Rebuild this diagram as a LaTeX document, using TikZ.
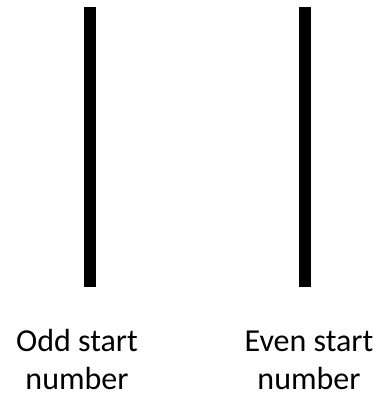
\documentclass[tikz,border=0pt]{standalone}
\usepackage{fontspec}
\setmainfont{Carlito}
\begin{document}
\begin{tikzpicture}[x=1pt,y=-1pt,
  bar/.style={line width=11.5pt,black},
  lbl/.style={align=center,inner sep=0pt,font=\fontsize{32}{38}\selectfont,anchor=base}]
\useasboundingbox (0,0) rectangle (382,395);
\coordinate (l1) at (90,7.5);
\coordinate (l2) at (90,287);
\coordinate (r1) at (305,7.5);
\coordinate (r2) at (305,287);
\draw[bar] (l1) -- (l2);
\draw[bar] (r1) -- (r2);
\node[lbl] (odd) at (77,389) {Odd start\\number};
\node[lbl] (even) at (309,389) {Even start\\number};
\end{tikzpicture}
\end{document}
